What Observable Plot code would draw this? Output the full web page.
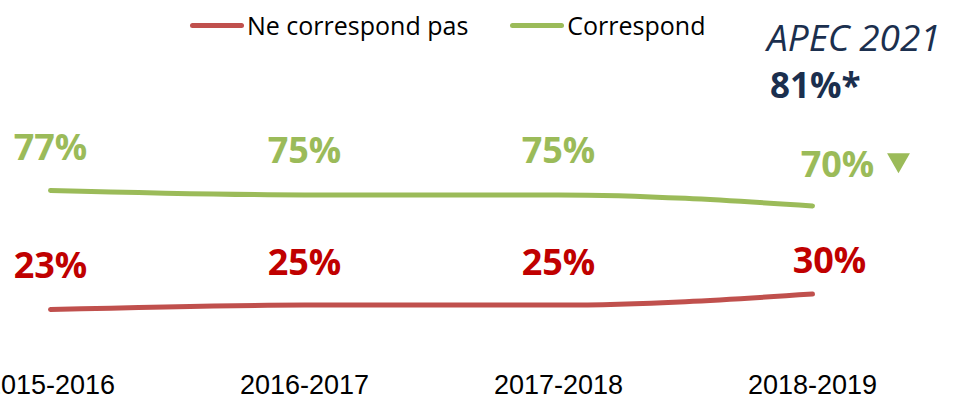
<!DOCTYPE html>
<html>
<head>
<meta charset="utf-8">
<script src="https://cdn.jsdelivr.net/npm/d3@7"></script>
<script src="https://cdn.jsdelivr.net/npm/@observablehq/plot@0.6"></script>
<style>
  html, body { margin: 0; padding: 0; background: #fff; }
  #wrap { position: relative; width: 955px; height: 400px; overflow: hidden; }
  #legend { position: absolute; left: 190px; top: 8px; display: flex; align-items: center;
            font-family: "Open Sans", sans-serif; font-size: 25px; color: #000; }
  .item { display: flex; align-items: center; margin-right: 42px; }
  .sw { display: inline-block; width: 54px; height: 5px; border-radius: 3px; margin-right: 3px; }
  #apec { position: absolute; left: 767px; top: 13px; font-family: "Open Sans", sans-serif; color: #1B2F4E; }
  #apec .t { font-style: italic; font-size: 37px; line-height: 48px; }
  #apec .v { font-weight: bold; font-size: 35px; line-height: 48px; padding-left: 3px; }
  svg { position: absolute; left: 0; top: 0; }
</style>
</head>
<body>
<div id="wrap">
  <div id="legend"></div>
  <div id="apec"></div>
</div>
<script>
const categories = ["2015-2016", "2016-2017", "2017-2018", "2018-2019"];
const correspond = [77, 75, 75, 70];
const neCorrespond = [23, 25, 25, 30];
const seriesNames = ["Ne correspond pas", "Correspond"];
const apecTitle = "APEC 2021";
const apecValue = "81%*";

const lineColors = {"Ne correspond pas": "#C0504D", "Correspond": "#9BBB59"};
const textColors = {"Ne correspond pas": "#C00000", "Correspond": "#9BBB59"};

const rows = [
  ...categories.map((c, i) => ({year: c, value: neCorrespond[i], series: seriesNames[0], i})),
  ...categories.map((c, i) => ({year: c, value: correspond[i], series: seriesNames[1], i}))
];

// label offsets (style only)
const offsets = {
  "Correspond": {dx: [0, 0, 0, 25], dy: [-42, -43, -43, -40]},
  "Ne correspond pas": {dx: [0, 0, 0, 17], dy: [-43, -42, -42, -33]}
};

const labelMarks = rows.map(r => Plot.text([r], {
  x: "year", y: "value",
  text: d => d.value + "%",
  fill: textColors[r.series],
  fontFamily: "Open Sans", fontWeight: "bold", fontSize: 36,
  textAnchor: "middle", lineAnchor: "middle",
  dx: offsets[r.series].dx[r.i], dy: offsets[r.series].dy[r.i]
}));

const chart = Plot.plot({
  width: 955, height: 400,
  marginTop: 0, marginBottom: 0, marginLeft: 0, marginRight: 0,
  x: {type: "point", domain: categories, range: [50, 812], padding: 0, axis: null},
  y: {domain: [23, 77], range: [309, 190], axis: null},
  style: {background: "transparent", overflow: "visible"},
  marks: [
    Plot.line(rows, {x: "year", y: "value", z: "series", stroke: d => lineColors[d.series],
      strokeWidth: 5, strokeLinecap: "round", curve: "monotone-x"}),
    ...labelMarks,
    Plot.dot([{year: categories[3], value: correspond[3]}], {x: "year", y: "value",
      symbol: "triangle", rotate: 180, r: 8.5, fill: "#9BBB59", stroke: "none", dx: 86, dy: -46}),
    Plot.text(categories, {x: d => d, frameAnchor: "bottom", dy: -15, lineAnchor: "middle",
      textAnchor: "middle", fontFamily: "Liberation Sans", fontSize: 27, fill: "#000"})
  ]
});
chart.style.color = "#000";
document.getElementById("wrap").appendChild(chart);

const legend = document.getElementById("legend");
seriesNames.forEach(name => {
  const it = document.createElement("div");
  it.className = "item";
  const sw = document.createElement("span");
  sw.className = "sw";
  sw.style.background = lineColors[name];
  const lab = document.createElement("span");
  lab.textContent = name;
  it.appendChild(sw); it.appendChild(lab);
  legend.appendChild(it);
});
legend.style.zIndex = 2;
const apec = document.getElementById("apec");
apec.style.zIndex = 2;
apec.innerHTML = `<div class="t"></div><div class="v"></div>`;
apec.querySelector(".t").textContent = apecTitle;
apec.querySelector(".v").textContent = apecValue;
</script>
</body>
</html>
